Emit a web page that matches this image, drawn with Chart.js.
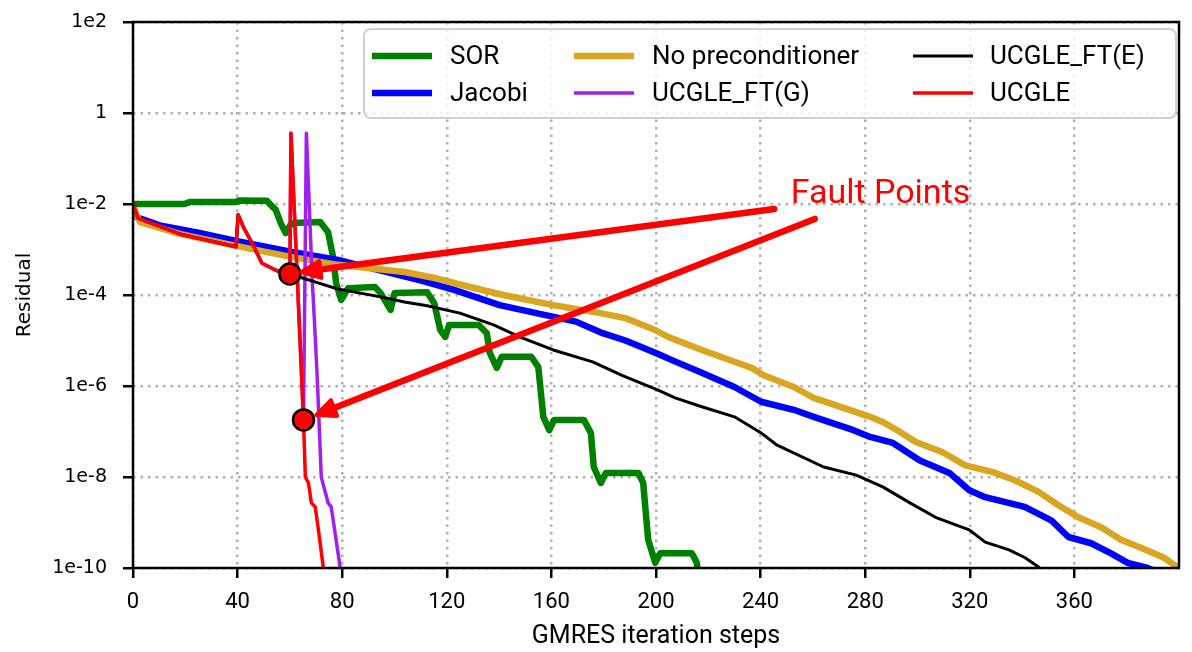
<!DOCTYPE html>
<html>
<head>
<meta charset="utf-8">
<script src="https://cdn.jsdelivr.net/npm/chart.js@4.4.1/dist/chart.umd.min.js"></script>
<style>
  html, body { margin: 0; padding: 0; background: #ffffff; }
  #wrap { width: 1192px; height: 652px; position: relative; }
</style>
</head>
<body>
<div id="wrap"><canvas id="c" width="1192" height="652"></canvas></div>
<script>
// ---------------- data ----------------
const sorIter = [0, 19.7, 21.6, 39.4, 40.5, 51.2, 53.0, 54.6, 56.5, 58.4, 60.6, 71.6, 74.6, 76.5, 77.7, 79.6, 82.2, 92.5, 94.7, 98.5, 100.0, 112.5, 115.2, 117.5, 119.4, 120.9, 132.2, 135.3, 136.4, 139.1, 141.0, 152.3, 155.0, 156.9, 159.2, 161.0, 172.4, 175.1, 176.2, 178.9, 180.8, 193.3, 195.1, 197.0, 199.7, 201.6, 213.7, 215.6, 216.5];
const sorRes  = [1.0e-2, 1.0e-2, 1.1e-2, 1.1e-2, 1.2e-2, 1.18e-2, 9.1e-3, 7.4e-3, 3.8e-3, 2.3e-3, 3.8e-3, 4.0e-3, 2.4e-3, 6.9e-4, 1.8e-4, 7.8e-5, 1.4e-4, 1.5e-4, 1.1e-4, 4.7e-5, 1.1e-4, 1.15e-4, 6.6e-5, 1.7e-5, 1.2e-5, 2.2e-5, 2.2e-5, 1.45e-5, 5.4e-6, 2.5e-6, 4.4e-6, 4.4e-6, 2.6e-6, 2.1e-7, 1.07e-7, 1.8e-7, 1.8e-7, 9.3e-8, 1.66e-8, 7.4e-9, 1.23e-8, 1.23e-8, 7.4e-9, 4.2e-10, 1.3e-10, 2.1e-10, 2.1e-10, 1.3e-10, 5e-11];

const jacobiIter = [0, 1.5, 10.2, 25.4, 39.4, 60.3, 78.4, 90.9, 109.9, 122.8, 140.2, 154.2, 169.4, 179.6, 188.3, 199.7, 206.1, 217.5, 230.0, 240.2, 252.7, 260.3, 275.5, 281.9, 290.6, 300.9, 312.2, 319.8, 325.9, 341.0, 351.3, 357.7, 366.4, 374.0, 380.4, 388.0, 392.0];
const jacobiRes  = [9.1e-3, 5.1e-3, 3.4e-3, 2.3e-3, 1.55e-3, 8.9e-4, 5.9e-4, 3.9e-4, 2.1e-4, 1.3e-4, 6.0e-5, 4.0e-5, 2.6e-5, 1.45e-5, 1.0e-5, 5.4e-6, 3.7e-6, 1.95e-6, 9.5e-7, 4.5e-7, 3.0e-7, 2.1e-7, 1.07e-7, 7.6e-8, 5.6e-8, 2.3e-8, 1.23e-8, 5.1e-9, 3.6e-9, 2.2e-9, 1.1e-9, 4.8e-10, 3.5e-10, 2.1e-10, 1.3e-10, 1.0e-10, 8e-11];

const noPrecIter = [0, 2.7, 17.8, 39.4, 60.3, 78.4, 103.8, 116.3, 128.8, 141.7, 160.7, 175.8, 188.3, 199.7, 204.6, 217.5, 230.0, 236.5, 241.4, 252.7, 260.3, 271.7, 281.9, 286.9, 293.3, 299.4, 309.6, 318.3, 328.5, 337.2, 346.3, 353.9, 361.5, 370.2, 377.8, 385.4, 394.1, 399.4, 400];
const noPrecRes  = [8.5e-3, 4.0e-3, 2.2e-3, 1.2e-3, 6.9e-4, 4.6e-4, 3.2e-4, 2.3e-4, 1.5e-4, 1.0e-4, 6.0e-5, 4.3e-5, 3.1e-5, 1.7e-5, 1.2e-5, 6.2e-6, 3.4e-6, 2.5e-6, 1.7e-6, 9.5e-7, 5.5e-7, 3.3e-7, 2.1e-7, 1.6e-7, 9.8e-8, 5.9e-8, 3.5e-8, 1.8e-8, 1.3e-8, 8.5e-9, 4.7e-9, 2.4e-9, 1.3e-9, 7.9e-10, 4.2e-10, 2.8e-10, 1.7e-10, 1.05e-10, 1.0e-10];

const ftGIter = [0, 1.9, 17.8, 39.4, 40.2, 42.4, 45.5, 49.3, 54.6, 58.4, 60.0, 60.4, 65.2, 66.3, 68.6, 69.3, 70.5, 72.0, 74.6, 75.8, 79.2, 79.6];
const ftGRes  = [9.5e-3, 4.9e-3, 2.2e-3, 1.15e-3, 5.8e-3, 2.95e-3, 1.4e-3, 5.0e-4, 3.5e-4, 3.0e-4, 2.9e-4, 0.36, 1.8e-7, 0.36, 1.8e-4, 3.3e-5, 1.35e-6, 1.0e-8, 2.7e-9, 2.2e-9, 1.05e-10, 8e-11];

const ftEIter = [0, 1.9, 17.8, 39.4, 40.2, 42.4, 45.5, 49.3, 54.6, 58.4, 60.0, 78.4, 94.7, 103.8, 112.5, 125.0, 137.9, 147.8, 160.7, 175.8, 187.2, 200.8, 207.3, 217.5, 230.0, 240.2, 246.3, 264.1, 276.6, 286.9, 297.1, 306.9, 319.8, 325.9, 335.0, 341.0, 346.3, 348.0];
const ftERes  = [9.5e-3, 4.9e-3, 2.2e-3, 1.15e-3, 5.8e-3, 2.95e-3, 1.4e-3, 5.0e-4, 3.5e-4, 3.0e-4, 2.9e-4, 1.35e-4, 9.1e-5, 7.0e-5, 5.8e-5, 4.0e-5, 2.2e-5, 1.2e-5, 6.2e-6, 3.4e-6, 1.7e-6, 8.1e-7, 5.5e-7, 3.5e-7, 2.1e-7, 9.3e-8, 5.0e-8, 1.66e-8, 1.1e-8, 6.0e-9, 2.7e-9, 1.3e-9, 6.9e-10, 3.7e-10, 2.5e-10, 1.7e-10, 1.05e-10, 8e-11];

const ucgleIter = [0, 1.9, 17.8, 39.4, 40.2, 42.4, 45.5, 49.3, 54.6, 58.4, 60.0, 60.4, 65.2, 65.9, 67.1, 68.2, 69.7, 70.9, 72.8, 73.5];
const ucgleRes  = [9.5e-3, 4.9e-3, 2.2e-3, 1.15e-3, 5.8e-3, 2.95e-3, 1.4e-3, 5.0e-4, 3.5e-4, 3.0e-4, 2.9e-4, 0.36, 1.8e-7, 1.0e-8, 7.4e-9, 2.7e-9, 2.2e-9, 6.9e-10, 1.0e-10, 8e-11];

const faultIter = [60.0, 65.2];
const faultRes  = [2.9e-4, 1.8e-7];

const seriesNames = ['SOR', 'Jacobi', 'No preconditioner', 'UCGLE_FT(G)', 'UCGLE_FT(E)', 'UCGLE'];
const xTicks = [0, 40, 80, 120, 160, 200, 240, 280, 320, 360];
const yTicks = [1e2, 1, 1e-2, 1e-4, 1e-6, 1e-8, 1e-10];
const yTickLabels = ['1e2', '1', '1e-2', '1e-4', '1e-6', '1e-8', '1e-10'];
const annotationLabel = 'Fault Points';

// ---------------- styles / layout ----------------
const styles = {
  'SOR':               { color: '#008000', width: 6.5 },
  'Jacobi':            { color: '#0000ff', width: 6.5 },
  'No preconditioner': { color: '#daa520', width: 6.5 },
  'UCGLE_FT(G)':       { color: '#a020f0', width: 3.5 },
  'UCGLE_FT(E)':       { color: '#000000', width: 3 },
  'UCGLE':             { color: '#ff0000', width: 3.5 }
};
const annotationLayout = {
  textAt: [251.5, 1.05e-2],
  arrows: [
    { from: [245.2, 7.8e-3], to: [64.4, 3.2e-4] },
    { from: [260.7, 4.7e-3], to: [70.1, 2.3e-7] }
  ]
};
const legendLayout = {
  box: { x: 364, y: 29, w: 812, h: 89, r: 7 },
  handleX: [372, 574, 913], textX: [450, 652, 990], rowY: [56, 93], handleLen: 60,
  cells: [['SOR', 'Jacobi'], ['No preconditioner', 'UCGLE_FT(G)'], ['UCGLE_FT(E)', 'UCGLE']]
};

function pts(xs, ys) { return xs.map((x, i) => ({ x: x, y: ys[i] })); }
function lineDs(name, xs, ys) {
  const s = styles[name];
  return { label: name, data: pts(xs, ys), borderColor: s.color, backgroundColor: s.color,
           borderWidth: s.width, pointRadius: 0, fill: false, tension: 0,
           borderJoinStyle: 'round', borderCapStyle: 'butt' };
}

// index 0 is drawn on top in Chart.js
const datasets = [
  { label: 'fault', type: 'scatter', data: pts(faultIter, faultRes), pointRadius: 10.5,
    pointBackgroundColor: '#ff0000', pointBorderColor: '#000000', pointBorderWidth: 2.5, showLine: false },
  lineDs('UCGLE', ucgleIter, ucgleRes),
  lineDs('UCGLE_FT(E)', ftEIter, ftERes),
  lineDs('UCGLE_FT(G)', ftGIter, ftGRes),
  lineDs('No preconditioner', noPrecIter, noPrecRes),
  lineDs('Jacobi', jacobiIter, jacobiRes),
  lineDs('SOR', sorIter, sorRes)
];

const framePlugin = {
  id: 'frame',
  afterDatasetsDraw(chart) {
    const { ctx, chartArea: a } = chart;
    ctx.save();
    ctx.strokeStyle = '#000';
    ctx.lineWidth = 2.5;
    ctx.strokeRect(a.left, a.top, a.right - a.left, a.bottom - a.top);
    ctx.restore();
  }
};

const annotationPlugin = {
  id: 'faultAnnotation',
  afterDraw(chart) {
    const { ctx, scales: { x, y } } = chart;
    ctx.save();
    ctx.strokeStyle = '#ff0000';
    ctx.fillStyle = '#ff0000';
    annotationLayout.arrows.forEach(ar => {
      const x1 = x.getPixelForValue(ar.from[0]), y1 = y.getPixelForValue(ar.from[1]);
      const x2 = x.getPixelForValue(ar.to[0]), y2 = y.getPixelForValue(ar.to[1]);
      const dx = x2 - x1, dy = y2 - y1, len = Math.hypot(dx, dy);
      const ux = dx / len, uy = dy / len;
      const headLen = 19, headHalf = 8.5;
      const bx = x2 - ux * headLen, by = y2 - uy * headLen;
      ctx.lineWidth = 6.5; ctx.lineCap = 'round';
      ctx.beginPath(); ctx.moveTo(x1, y1); ctx.lineTo(bx + ux * 2, by + uy * 2); ctx.stroke();
      ctx.lineWidth = 4; ctx.lineJoin = 'round';
      ctx.beginPath();
      ctx.moveTo(x2, y2);
      ctx.lineTo(bx - uy * headHalf, by + ux * headHalf);
      ctx.lineTo(bx + uy * headHalf, by - ux * headHalf);
      ctx.closePath(); ctx.fill(); ctx.stroke();
    });
    ctx.font = '34px Roboto';
    ctx.textAlign = 'left';
    ctx.textBaseline = 'alphabetic';
    ctx.fillText(annotationLabel, x.getPixelForValue(annotationLayout.textAt[0]), y.getPixelForValue(annotationLayout.textAt[1]));
    ctx.restore();
  }
};

const legendPlugin = {
  id: 'boxLegend',
  afterDraw(chart) {
    const ctx = chart.ctx, L = legendLayout, b = L.box;
    ctx.save();
    ctx.beginPath();
    ctx.roundRect(b.x, b.y, b.w, b.h, b.r);
    ctx.fillStyle = 'rgba(255,255,255,0.8)';
    ctx.fill();
    ctx.lineWidth = 2;
    ctx.strokeStyle = '#d0d0d0';
    ctx.stroke();
    ctx.font = '26px Roboto';
    ctx.textBaseline = 'middle';
    ctx.textAlign = 'left';
    L.cells.forEach((col, ci) => {
      col.forEach((name, ri) => {
        const s = styles[name];
        const yy = L.rowY[ri];
        ctx.strokeStyle = s.color; ctx.lineWidth = s.width; ctx.lineCap = 'butt';
        ctx.beginPath(); ctx.moveTo(L.handleX[ci], yy); ctx.lineTo(L.handleX[ci] + L.handleLen, yy); ctx.stroke();
        ctx.fillStyle = '#000';
        ctx.fillText(name, L.textX[ci], yy + 1);
      });
    });
    ctx.restore();
  }
};

new Chart(document.getElementById('c'), {
  type: 'line',
  data: { datasets: datasets },
  options: {
    responsive: false,
    animation: false,
    devicePixelRatio: 1,
    layout: { padding: { left: 0, right: 3, top: 22, bottom: 0 } },
    plugins: { legend: { display: false }, tooltip: { enabled: false } },
    scales: {
      x: {
        type: 'linear', min: 0, max: 400,
        afterBuildTicks: s => { s.ticks = xTicks.map(v => ({ value: v })); },
        afterFit: s => { s.height = 84; s.paddingLeft = 0; s.paddingRight = 0; },
        grid: { color: '#b0b0b0', lineWidth: 2.5, tickColor: '#000', tickWidth: 2.5, tickLength: 10 },
        border: { display: false, dash: [2.5, 5] },
        ticks: { font: { family: 'Roboto', size: 22 }, color: '#000', padding: 11, maxRotation: 0, autoSkip: false },
        title: { display: true, text: 'GMRES iteration steps', font: { family: 'Roboto', size: 25 }, color: '#000', padding: { top: 0, bottom: 0 } }
      },
      y: {
        type: 'logarithmic', min: 1e-10, max: 1e2,
        afterBuildTicks: s => { s.ticks = yTicks.map(v => ({ value: v })); },
        afterFit: s => { s.width = 133; s.paddingTop = 0; s.paddingBottom = 0; },
        grid: { color: '#b0b0b0', lineWidth: 2.5, tickColor: '#000', tickWidth: 2.5, tickLength: 10 },
        border: { display: false, dash: [2.5, 5] },
        ticks: {
          font: { family: 'DejaVu Sans', size: 19 }, color: '#000', padding: 16, autoSkip: false,
          callback: (v) => {
            const i = yTicks.findIndex(t => Math.abs(Math.log10(t) - Math.log10(v)) < 1e-6);
            return i >= 0 ? yTickLabels[i] : '';
          }
        },
        title: { display: true, text: 'Residual', font: { family: 'DejaVu Sans', size: 20 }, color: '#000', padding: { top: 13, bottom: 0 } }
      }
    }
  },
  plugins: [framePlugin, annotationPlugin, legendPlugin]
});
</script>
</body>
</html>
